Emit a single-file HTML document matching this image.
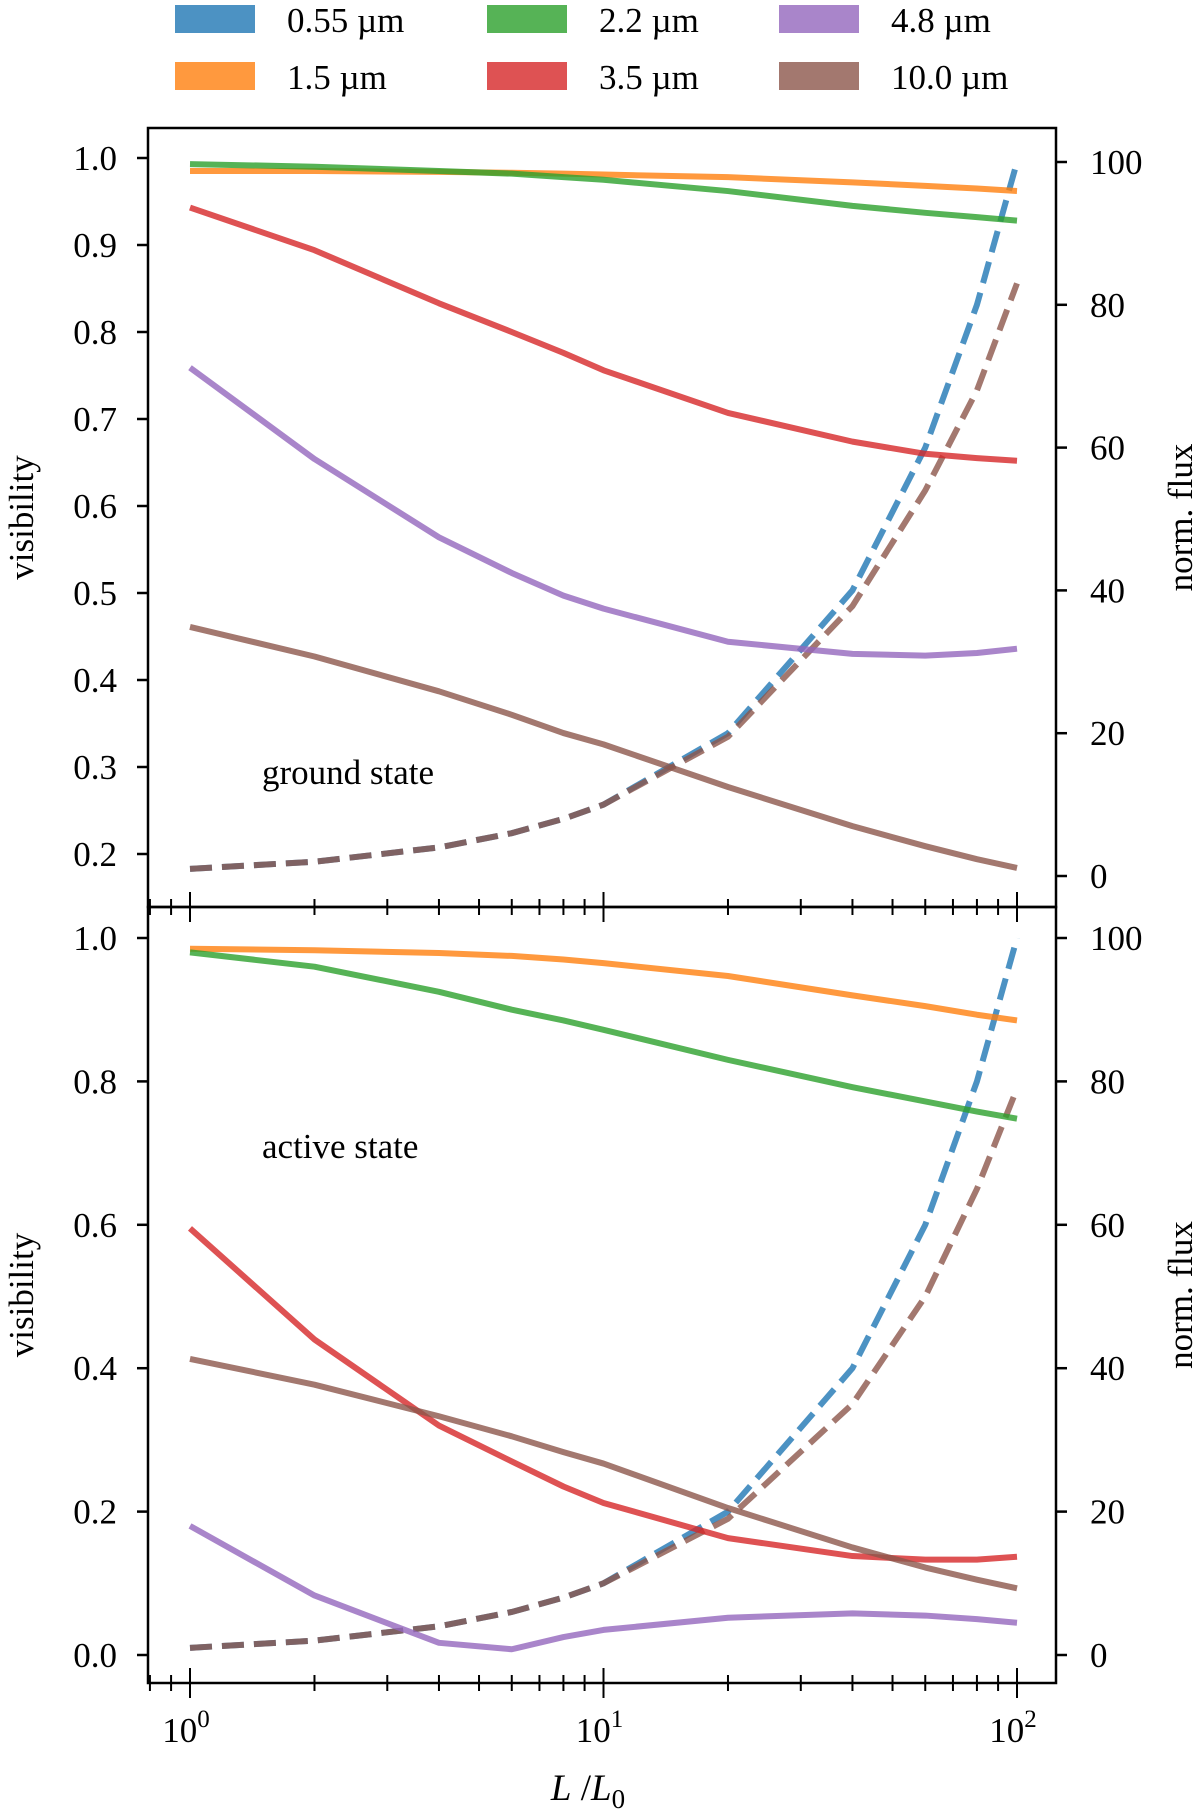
<!DOCTYPE html>
<html><head><meta charset="utf-8"><style>
body{margin:0;background:#fff}
svg{display:block;font-family:"Liberation Serif",serif}
</style></head><body>
<svg id="chart" width="1200" height="1815" viewBox="0 0 1200 1815" xmlns="http://www.w3.org/2000/svg">
<g id="legend"></g>
<g id="plots"></g>
</svg>
<script>
const Lvals = [1,2,4,6,8,10,20,40,60,80,100];
const seriesNames = ['0.55 µm','1.5 µm','2.2 µm','3.5 µm','4.8 µm','10.0 µm'];
const colors = ['#1f77b4','#ff7f0e','#2ca02c','#d62728','#9467bd','#8c564b'];
// ground state visibilities
const gOrange = [0.985,0.985,0.984,0.983,0.982,0.981,0.978,0.972,0.968,0.965,0.962];
const gGreen  = [0.993,0.990,0.985,0.982,0.978,0.975,0.962,0.945,0.937,0.932,0.928];
const gRed    = [0.943,0.894,0.833,0.800,0.776,0.756,0.707,0.674,0.660,0.655,0.652];
const gPurple = [0.759,0.654,0.564,0.523,0.497,0.482,0.444,0.430,0.428,0.431,0.436];
const gBrown  = [0.461,0.427,0.387,0.360,0.339,0.326,0.277,0.232,0.209,0.194,0.184];
const gFluxBlue  = [1,2,4,6,8,10,20,40,60,80,100];
const gFluxBrown = [1,2,4,6,8,10,19.5,37.8,54,68,83];
// active state visibilities
const aOrange = [0.985,0.983,0.979,0.975,0.970,0.965,0.947,0.920,0.905,0.893,0.885];
const aGreen  = [0.980,0.960,0.925,0.900,0.885,0.872,0.830,0.792,0.772,0.758,0.748];
const aRed    = [0.595,0.440,0.320,0.270,0.235,0.212,0.163,0.138,0.133,0.133,0.137];
const aPurple = [0.180,0.083,0.017,0.008,0.025,0.035,0.052,0.058,0.055,0.050,0.045];
const aBrown  = [0.413,0.377,0.333,0.305,0.283,0.267,0.205,0.150,0.122,0.105,0.093];
const aFluxBlue  = [1,2,4,6,8,10,20,40,60,80,100];
const aFluxBrown = [1,2,4,6,8,10,19,35,50,65,79];
const topTicks = [0.2,0.3,0.4,0.5,0.6,0.7,0.8,0.9,1.0];
const botTicks = [0.0,0.2,0.4,0.6,0.8,1.0];
const fluxTicks = [0,20,40,60,80,100];

const NS='http://www.w3.org/2000/svg';
const svg=document.getElementById('plots');
function mk(tag,attrs,parent){const e=document.createElementNS(NS,tag);for(const k in attrs)e.setAttribute(k,attrs[k]);(parent||svg).appendChild(e);return e;}
const X0=148,X1=1056;
const xs=v=>190+Math.log10(v)*413.5;
const FS=35;

function panel(name,yTop,yBot,yA,yB,vA,vB,fTop,fBot,ticks,vis,flux,label,labelY){
  const g=mk('g',{});
  
  
  const ys=v=>yA+(v-vA)*(yB-yA)/(vB-vA);
  const yf=f=>fBot+(f)*(fTop-fBot)/100;
  const fluxCols=[colors[0],colors[5]];
  flux.forEach((arr,i)=>{
    const p=mk('polyline',{points:arr.map((f,j)=>xs(Lvals[j])+','+yf(f)).join(' '),fill:'none',stroke:fluxCols[i],'stroke-width':6,'stroke-opacity':0.8,'stroke-dasharray':'22 10'},g);
    
    
  });
  const visCols=[colors[1],colors[2],colors[3],colors[4],colors[5]];
  const visNames=['vis-1.5um','vis-2.2um','vis-3.5um','vis-4.8um','vis-10um'];
  vis.forEach((arr,i)=>{
    const p=mk('polyline',{points:arr.map((v,j)=>xs(Lvals[j])+','+ys(v)).join(' '),fill:'none',stroke:visCols[i],'stroke-width':6,'stroke-opacity':0.8,'stroke-linejoin':'round'},g);
    
    
  });
  mk('rect',{x:X0,y:yTop,width:X1-X0,height:yBot-yTop,fill:'none',stroke:'#000','stroke-width':2.5},g);
  ticks.forEach(t=>{
    const y=ys(t);
    mk('line',{x1:X0-11,x2:X0,y1:y,y2:y,stroke:'#000','stroke-width':2.5},g);
    const tx=mk('text',{x:117,y:y+12,'text-anchor':'end','font-size':FS},g);
    tx.textContent=t.toFixed(1);
    
    
  });
  fluxTicks.forEach(t=>{
    const y=yf(t);
    mk('line',{x1:X1,x2:X1+11,y1:y,y2:y,stroke:'#000','stroke-width':2.5},g);
    const tx=mk('text',{x:1090,y:y+12,'font-size':FS},g);
    tx.textContent=t;
    
    
  });
  for(let d=0;d<3;d++)for(let m=1;m<10;m++){
    const v=Math.pow(10,d)*m; const x=xs(v);
    if(x<X0||x>X1)continue;
    const h=m==1?15:8;
    mk('line',{x1:x,x2:x,y1:yBot-h,y2:yBot+h,stroke:'#000','stroke-width':2},g);
  }
  [0.8,0.9].forEach(v=>{const x=xs(v);if(x>X0)mk('line',{x1:x,x2:x,y1:yBot-8,y2:yBot+8,stroke:'#000','stroke-width':2},g);});
  const lb=mk('text',{x:262,y:labelY,'font-size':FS},g);
  lb.textContent=label;
  
  
  const yl=mk('text',{transform:`translate(33,${(yTop+yBot)/2}) rotate(-90)`,'text-anchor':'middle','font-size':FS},g);
  yl.textContent='visibility';
  
  
  const yr=mk('text',{transform:`translate(1192,${(yTop+yBot)/2}) rotate(-90)`,'text-anchor':'middle','font-size':FS},g);
  yr.textContent='norm. flux';
  
  
}
panel('ground-state-panel',128,907,158,854,1.0,0.2,162,876,topTicks,[gOrange,gGreen,gRed,gPurple,gBrown],[gFluxBlue,gFluxBrown],'ground state',784);
panel('active-state-panel',907,1683,938,1655,1.0,0.0,938,1655,botTicks,[aOrange,aGreen,aRed,aPurple,aBrown],[aFluxBlue,aFluxBrown],'active state',1158);
[0,1,2].forEach(d=>{
  const t=mk('text',{x:xs(Math.pow(10,d))-4,y:1742,'text-anchor':'middle','font-size':FS});
  t.innerHTML='10<tspan dy="-15" font-size="25">'+d+'</tspan>';
  
  
});
const xl=mk('text',{x:588,y:1800,'text-anchor':'middle','font-size':37});
xl.innerHTML='<tspan font-style="italic">L</tspan>  /<tspan font-style="italic">L</tspan><tspan dy="8" font-size="27">0</tspan>';


const leg=document.getElementById('legend');
const lx=[175,487,779];
seriesNames.forEach((n,i)=>{
  const col=Math.floor(i/2),row=i%2;
  const y=row==0?5:62;
  const r=mk('rect',{x:lx[col],y:y,width:80,height:28,fill:colors[i],'fill-opacity':0.8},leg);
  
  
  const t=mk('text',{x:lx[col]+112,y:y+27,'font-size':FS},leg);
  t.textContent=n;
  
  
});
</script>
</body></html>
